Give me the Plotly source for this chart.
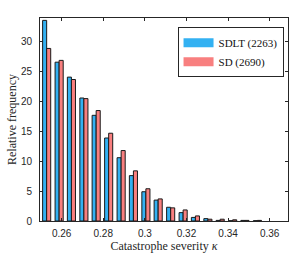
import plotly.graph_objects as go

# Bin centres (catastrophe severity kappa)
bin_centers = [0.2528, 0.2588, 0.2647, 0.2707, 0.2766, 0.2826, 0.2886, 0.2945,
               0.3005, 0.3064, 0.3124, 0.3184, 0.3243, 0.3303, 0.3362, 0.3422,
               0.3481, 0.3541]
sdlt_values = [33.6, 26.6, 24.1, 20.6, 17.7, 13.9, 10.6, 7.6, 4.9, 3.5, 2.3,
               1.4, 0.6, 0.4, 0.1, 0.05, 0.1, 0.05]
sd_values = [28.9, 26.9, 23.7, 20.5, 18.5, 14.7, 11.8, 8.4, 5.4, 3.7, 2.2,
             1.85, 0.85, 0.3, 0.3, 0.2, 0.1, 0.1]
series_names = ["SDLT (2263)", "SD (2690)"]
series_colors = ["#33B1F2", "#F87F7F"]
x_ticks = [0.26, 0.28, 0.30, 0.32, 0.34, 0.36]
x_tick_labels = ["0.26", "0.28", "0.3", "0.32", "0.34", "0.36"]
y_ticks = [0, 5, 10, 15, 20, 25, 30]

SERIF = "Liberation Serif, serif"
SANS = "Liberation Sans"

fig = go.Figure()
for name, vals, col in zip(series_names, [sdlt_values, sd_values], series_colors):
    fig.add_trace(go.Bar(x=bin_centers, y=vals, name=name, showlegend=False,
                         marker=dict(color=col, line=dict(color="#1a1a1a", width=1))))
# legend entries (long rectangular patches)
for name, col in zip(series_names, series_colors):
    fig.add_trace(go.Scatter(x=[None], y=[None], mode="lines", name=name,
                             line=dict(color=col, width=9)))

axis_common = dict(showline=True, linecolor="#262626", linewidth=1, mirror="ticks",
                   ticks="inside", ticklen=3, tickcolor="#262626", showgrid=False,
                   zeroline=False, automargin=False,
                   tickfont=dict(family=SANS, size=10, color="#262626"))

fig.update_layout(
    width=299, height=257,
    margin=dict(l=40, r=11, t=18, b=36),
    paper_bgcolor="white", plot_bgcolor="white",
    barmode="group", bargap=0.34, bargroupgap=0.0,
    xaxis=dict(range=[0.2496, 0.3688], tickvals=x_ticks, ticktext=x_tick_labels,
               ticklabelstandoff=3,
               title=dict(text="Catastrophe severity <i>κ</i>", standoff=2,
                          font=dict(family=SERIF, size=12, color="#262626")),
               **axis_common),
    yaxis=dict(range=[0, 34], tickvals=y_ticks, ticklabelstandoff=5,
               title=dict(text="Relative frequency", standoff=1,
                          font=dict(family=SERIF, size=12, color="#262626")),
               **axis_common),
    legend=dict(x=0.982, xanchor="right", y=0.955, yanchor="top",
                bgcolor="white", bordercolor="#262626", borderwidth=1,
                font=dict(family=SERIF, size=11, color="#111111"),
                tracegroupgap=0, itemwidth=30),
)

fig.write_html("out.html", config={"displayModeBar": False},
               post_script="document.body.style.margin='0';")
